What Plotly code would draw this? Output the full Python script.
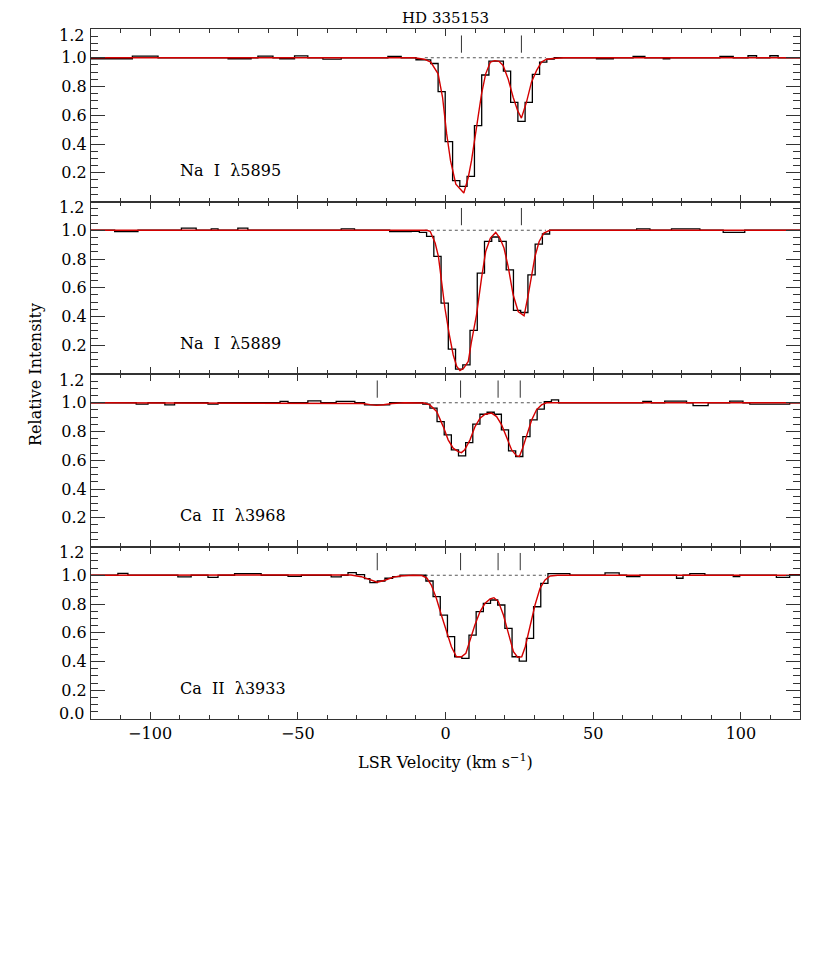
import plotly.graph_objects as go
from plotly.subplots import make_subplots

# panel labels, top to bottom
line_names = ['Na  I  λ5895', 'Na  I  λ5889', 'Ca  II  λ3968', 'Ca  II  λ3933']

# component velocities marked above the continuum (km/s)
na_components = [5.4, 25.7]
ca_components = [-23.1, 5.1, 17.8, 25.3]

# velocity span of the dotted continuum guide
continuum_span = [-7, 34]

# observed spectra: left edge of each step (km/s) and its level
na5895_v = [-120, -106, -97.3, -73.6, -65.8, -63.5, -58.4, -56.1, -51.1, -46.6, -41.5, -35.3,
            -19.5, -15.0, -10.0, -7.5, -5.0, -2.5, -0.1, 2.4, 4.85, 7.3, 9.8, 12.25, 14.7,
            17.15, 19.6, 22.05, 24.5, 26.95, 29.4, 31.85, 34.3, 36.8, 51.1, 56.8, 63.5, 67.5,
            73.7, 75.9, 92.9, 97.4, 102.4, 105.3, 109.8, 112.6]
na5895_flux = [0.993, 1.012, 1.0, 0.993, 1.0, 1.012, 1.0, 0.993, 1.013, 1.0, 0.99, 1.0,
               1.01, 1.0, 0.986, 0.985, 0.96, 0.765, 0.417, 0.145, 0.105, 0.175, 0.528, 0.88, 0.976,
               0.976, 0.907, 0.69, 0.558, 0.69, 0.884, 0.97, 0.99, 1.0, 0.993, 1.0, 1.01, 1.0,
               0.993, 1.0, 1.01, 1.0, 1.014, 1.0, 1.014, 1.0]

na5889_v = [-120, -112, -104.1, -89.4, -84.4, -79.3, -77.0, -70.3, -66.9, -35.3, -30.8, -18.9,
            -11.6, -8.85, -6.4, -3.95, -1.5, 0.95, 3.4, 5.85, 8.3, 10.75, 13.2, 15.65, 18.1,
            20.55, 23.0, 25.45, 27.9, 30.35, 32.8, 35.25, 64.7, 69.2, 76.5, 86.1, 94.0, 101.3]
na5889_flux = [1.0, 0.99, 1.0, 1.015, 1.0, 1.01, 1.0, 1.015, 1.0, 1.01, 1.0, 0.99,
               0.992, 0.985, 0.958, 0.818, 0.493, 0.173, 0.034, 0.064, 0.303, 0.702, 0.922, 0.953, 0.922,
               0.725, 0.442, 0.428, 0.69, 0.904, 0.974, 1.0, 1.01, 1.0, 1.01, 1.0, 0.985, 1.0]

ca3968_v = [-120, -104.7, -100.7, -95.0, -91.7, -80.4, -77.0, -56.0, -53.3, -46.6, -42.2, -37.0,
            -30.7, -27.4, -18.9, -7.7, -5.28, -2.86, -0.44, 1.98, 4.4, 6.82, 9.24, 11.66, 14.08,
            16.5, 18.92, 21.34, 23.76, 26.18, 28.6, 31.02, 33.44, 35.86, 38.28, 66.8, 69.7, 74.2,
            81.6, 83.8, 88.9, 96.2, 100.7, 103.0, 116.5]
ca3968_flux = [1.0, 0.99, 1.0, 0.985, 1.0, 0.99, 1.0, 1.01, 1.0, 1.013, 1.0, 1.01,
               1.0, 0.985, 1.0, 0.99, 0.962, 0.869, 0.776, 0.672, 0.63, 0.723, 0.851, 0.92, 0.934,
               0.92, 0.811, 0.665, 0.626, 0.765, 0.881, 0.955, 1.008, 1.02, 1.0, 1.01, 1.0, 1.012,
               1.0, 0.98, 1.0, 1.012, 1.0, 0.99, 1.0]

ca3933_v = [-120, -110.9, -107.5, -90.6, -86.1, -80.4, -77.0, -71.4, -62.4, -53.3, -48.8, -38.7,
            -35.3, -33.0, -30.2, -27.4, -25.6, -23.1, -20.5, -17.9, -15.4, -6.63, -4.2, -1.77,
            0.66, 3.09, 5.52, 7.95, 10.38, 12.81, 15.24, 17.67, 20.1, 22.53, 24.96, 27.39, 29.82,
            32.25, 34.68, 42.1, 54.0, 58.8, 61.3, 65.8, 78.2, 80.4, 82.7, 87.8, 97.4, 99.6,
            112.0, 116.5]
ca3933_flux = [1.0, 1.013, 1.0, 0.988, 1.0, 0.985, 1.0, 1.011, 1.0, 0.992, 1.0, 0.988,
               1.0, 1.018, 1.005, 0.977, 0.948, 0.96, 0.979, 0.99, 1.0, 0.96, 0.851, 0.723,
               0.573, 0.433, 0.422, 0.584, 0.747, 0.805, 0.828, 0.793, 0.631, 0.433, 0.403, 0.561, 0.781,
               0.944, 1.011, 1.0, 1.016, 1.0, 0.99, 1.0, 0.979, 1.0, 1.011, 1.0, 0.99, 1.0,
               0.985, 1.005]

# fitted profiles (red)
na5895_fit_v = [-120, -10.6, -7.2, -5.0, -2.5, -1.0, 0.4, 1.7, 3.5, 4.9, 6.2, 7.7, 8.8, 10.5,
                12.2, 13.6, 15.2, 16.7, 18.1, 19.5, 21.2, 22.9, 24.4, 25.7, 27.4, 29.1, 30.8,
                32.5, 34.2, 36.4, 40, 120]
na5895_fit = [1.0, 1.0, 0.99, 0.97, 0.888, 0.725, 0.47, 0.284, 0.12, 0.087, 0.059, 0.167, 0.284, 0.516,
              0.749, 0.888, 0.97, 0.98, 0.975, 0.946, 0.853, 0.725, 0.633, 0.58, 0.69, 0.83, 0.91,
              0.97, 0.99, 0.995, 1.0, 1.0]

na5889_fit_v = [-120, -6.3, -5.2, -3.5, -2.4, -1.3, -0.2, 1.3, 2.6, 3.8, 4.9, 6.2, 7.7, 8.8,
                10.5, 12.2, 13.6, 15.2, 17.0, 18.4, 19.8, 21.2, 22.9, 24.6, 26.6, 28.0, 29.1,
                30.3, 31.7, 33.3, 35.3, 120]
na5889_fit = [1.0, 1.0, 0.993, 0.911, 0.818, 0.644, 0.459, 0.273, 0.134, 0.052, 0.024, 0.041, 0.087, 0.226,
              0.412, 0.667, 0.852, 0.946, 0.985, 0.946, 0.876, 0.748, 0.551, 0.435, 0.405, 0.551, 0.69,
              0.818, 0.922, 0.98, 1.0, 1.0]

ca3968_fit_v = [-120, -32, -28, -25.5, -23.4, -21, -18, -14, -9, -7.2, -5.3, -3.0, -0.76, 0.9,
                2.6, 4.3, 5.4, 6.5, 8.3, 10.0, 11.7, 13.4, 15.6, 17.3, 19.0, 20.7, 22.4, 24.1,
                25.0, 26.1, 27.5, 29.2, 30.8, 32.5, 34.2, 120]
ca3968_fit = [1.0, 1.0, 0.995, 0.987, 0.982, 0.986, 0.995, 1.0, 1.0, 0.998, 0.985, 0.939, 0.834, 0.742,
              0.684, 0.66, 0.653, 0.672, 0.742, 0.834, 0.893, 0.92, 0.928, 0.904, 0.846, 0.753, 0.672, 0.63,
              0.626, 0.684, 0.776, 0.881, 0.951, 0.985, 1.0, 1.0]

ca3933_fit_v = [-120, -36, -32, -28.5, -25.6, -23.1, -20.5, -17.9, -15.4, -11, -8, -6.3, -4.8,
                -3.1, -1.4, 0.3, 2.0, 3.7, 5.4, 6.9, 8.25, 9.95, 11.7, 13.4, 15.1, 16.4, 17.9,
                19.6, 21.3, 23.0, 24.4, 25.8, 27.0, 28.6, 30.3, 32.0, 33.7, 35.4, 38, 120]
ca3933_fit = [1.0, 1.0, 1.002, 0.99, 0.97, 0.952, 0.965, 0.985, 0.995, 1.0, 0.998, 0.98, 0.932,
              0.84, 0.723, 0.607, 0.503, 0.433, 0.433, 0.457, 0.55, 0.654, 0.747, 0.805, 0.835, 0.844, 0.817,
              0.723, 0.596, 0.468, 0.43, 0.433, 0.503, 0.654, 0.793, 0.909, 0.968, 0.995, 1.0, 1.0]

panels = [
    (na5895_v, na5895_flux, na5895_fit_v, na5895_fit, na_components),
    (na5889_v, na5889_flux, na5889_fit_v, na5889_fit, na_components),
    (ca3968_v, ca3968_flux, ca3968_fit_v, ca3968_fit, ca_components),
    (ca3933_v, ca3933_flux, ca3933_fit_v, ca3933_fit, ca_components),
]

FONT = 'DejaVu Serif'
AX = '#333333'

fig = make_subplots(rows=4, cols=1, shared_xaxes=True, vertical_spacing=0)

for i, (v, flux, fv, fit, comps) in enumerate(panels):
    row = i + 1
    # dotted continuum guide
    fig.add_trace(go.Scatter(x=continuum_span, y=[1.0, 1.0], mode='lines',
                             line=dict(color='#555555', width=1, dash='dot'),
                             hoverinfo='skip'), row=row, col=1)
    # component ticks
    mx, my = [], []
    for c in comps:
        mx += [c, c, None]
        my += [1.035, 1.155, None]
    fig.add_trace(go.Scatter(x=mx, y=my, mode='lines',
                             line=dict(color='#333333', width=1)), row=row, col=1)
    # observed spectrum as a histogram
    fig.add_trace(go.Scatter(x=v + [120], y=flux + [flux[-1]], mode='lines',
                             line=dict(color='black', width=1.3, shape='hv')), row=row, col=1)
    # fit
    fig.add_trace(go.Scatter(x=fv, y=fit, mode='lines',
                             line=dict(color='#d40000', width=1.4)), row=row, col=1)

    tv = [0.2, 0.4, 0.6, 0.8, 1.0]
    fig.update_yaxes(range=[0, 1.2], tickvals=tv, ticktext=[f'{t:.1f}' for t in tv],
                     ticks='inside', ticklen=14, tickwidth=1, tickcolor=AX,
                     minor=dict(ticks='inside', dtick=0.05, tick0=0, ticklen=7,
                                tickcolor=AX, showgrid=False),
                     showline=True, linecolor=AX, linewidth=1, mirror='allticks',
                     showgrid=False, zeroline=False,
                     tickfont=dict(family=FONT, size=16, color='black'),
                     row=row, col=1)
    fig.update_xaxes(range=[-120, 120], dtick=50, tick0=0,
                     ticks='inside', ticklen=7, tickwidth=1, tickcolor=AX,
                     minor=dict(ticks='inside', dtick=10, ticklen=4, tickcolor=AX, showgrid=False),
                     showline=True, linecolor=AX, linewidth=1, mirror='allticks',
                     showgrid=False, zeroline=False, showticklabels=(row == 4),
                     tickfont=dict(family=FONT, size=16, color='black'),
                     row=row, col=1)

    yref = 'y' if row == 1 else f'y{row}'
    xref = 'x' if row == 1 else f'x{row}'
    fig.add_annotation(x=-90.5, y=0.215, xref=xref, yref=yref, text=line_names[i],
                       showarrow=False, xanchor='left', yanchor='middle',
                       font=dict(family=FONT, size=16, color='black'))
    # top tick label, nudged down like the original
    fig.add_annotation(x=0, y=1.2, xref='paper', yref=yref, text='1.2', showarrow=False,
                       xanchor='right', yanchor='middle', xshift=-5, yshift=-6,
                       font=dict(family=FONT, size=16, color='black'))
    if row == 4:
        fig.add_annotation(x=0, y=0.0, xref='paper', yref=yref, text='0.0', showarrow=False,
                           xanchor='right', yanchor='middle', xshift=-5, yshift=6,
                           font=dict(family=FONT, size=16, color='black'))

fig.add_annotation(x=0.5, y=1, xref='paper', yref='paper', text='HD 335153', showarrow=False,
                   xanchor='center', yanchor='middle', yshift=11, borderpad=0,
                   font=dict(family=FONT, size=15, color='black'))
fig.add_annotation(x=0.5, y=0, xref='paper', yref='paper',
                   text='LSR Velocity (km s<sup>−1</sup>)', showarrow=False,
                   xanchor='center', yanchor='middle', yshift=-42,
                   font=dict(family=FONT, size=16, color='black'))
fig.add_annotation(x=-0.079, y=0.5, xref='paper', yref='paper', text='Relative Intensity',
                   showarrow=False, textangle=-90, xanchor='center', yanchor='middle',
                   font=dict(family=FONT, size=16, color='black'))

# the page adds an 8px body margin, so the figure is drawn 8px smaller
fig.update_layout(width=822, height=961, showlegend=False,
                  margin=dict(l=83, r=30, t=21, b=250),
                  paper_bgcolor='white', plot_bgcolor='white')

fig.write_html('out.html')
